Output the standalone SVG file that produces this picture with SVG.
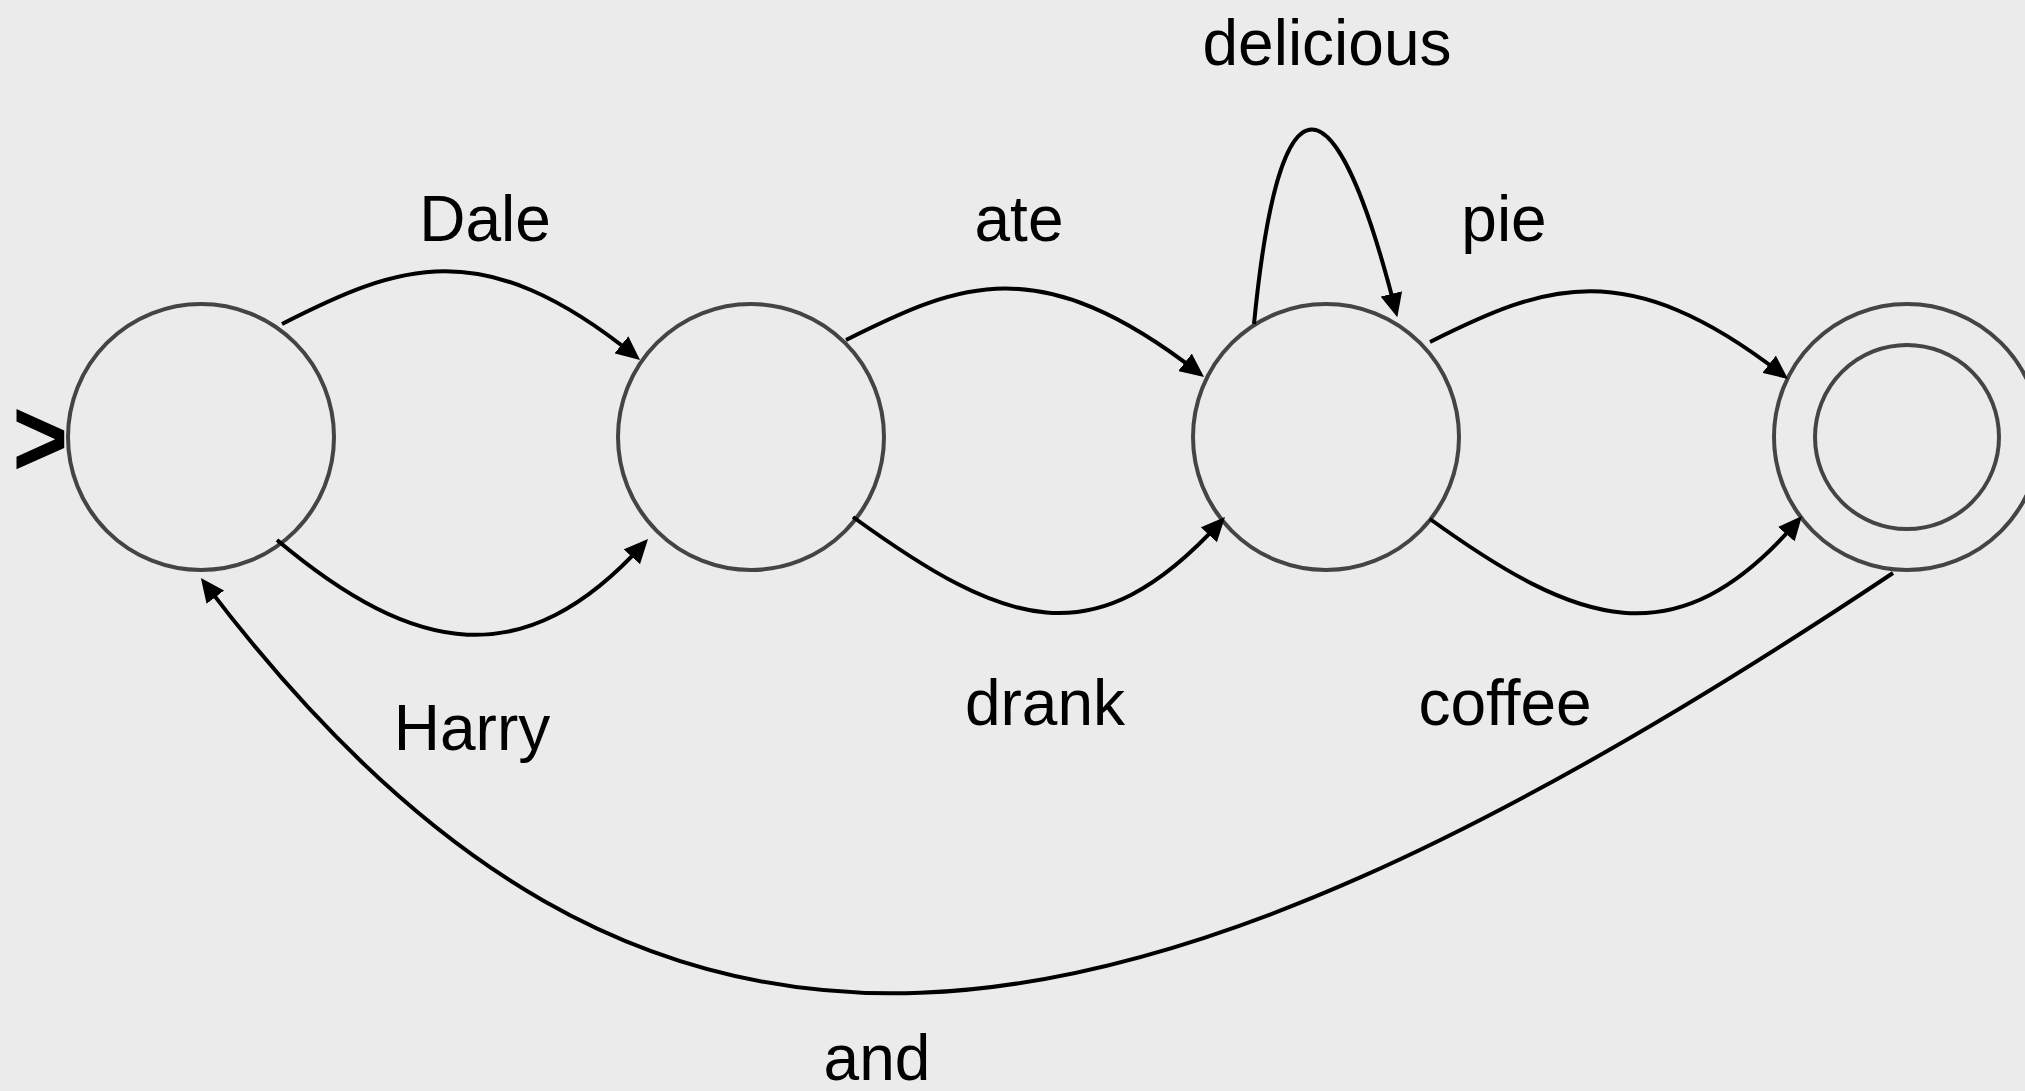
<svg xmlns="http://www.w3.org/2000/svg" width="2025" height="1091" viewBox="0 0 2025 1091">
<defs>
<style>
.state{fill:none;stroke:#444;stroke-width:4}
.edge{fill:none;stroke:#000;stroke-width:4;marker-end:url(#arr)}
.lbl{font-family:"Liberation Sans",Arial,sans-serif;font-size:64px;fill:#000;text-anchor:middle}
</style>
<marker id="arr" viewBox="0 0 24 22" refX="17" refY="11" markerWidth="24" markerHeight="22" markerUnits="userSpaceOnUse" orient="auto">
<path d="M0,0 L24,11 L0,22 z" fill="#000"/>
</marker>
</defs>
<rect width="2025" height="1091" fill="#ebebeb"/>
<g id="start-marker">
<text transform="translate(68,476) scale(0.85,1)" font-family="'Liberation Sans',Arial,sans-serif" font-size="112" font-weight="bold" text-anchor="end" fill="#000">&gt;</text>
</g>
<g id="q0"><circle class="state" cx="201" cy="437" r="133"/></g>
<g id="q1"><circle class="state" cx="751" cy="437" r="133"/></g>
<g id="q2"><circle class="state" cx="1326" cy="437" r="133"/></g>
<g id="q3"><circle class="state" cx="1907" cy="437" r="133"/><circle class="state" cx="1907" cy="437" r="92"/></g>
<g id="connectors">
<path id="e-dale" class="edge" d="M282,324 C398,265 482,232 634.6,355.6"/>
<path id="e-harry" class="edge" d="M277,540 C415,656 524.5,675 643.3,544.2"/>
<path id="e-ate" class="edge" d="M846,340 C960,283 1039,249 1198.5,372.7"/>
<path id="e-drank" class="edge" d="M853,517 C1005,627 1094,660 1220.3,522.2"/>
<path id="e-delicious" class="edge" d="M1254,324 C1280,58 1336,76 1395.6,310.4"/>
<path id="e-pie" class="edge" d="M1430,342 C1544,285 1626,253 1782.5,374.7"/>
<path id="e-coffee" class="edge" d="M1430,519 C1577,625 1676,662 1797.4,521.3"/>
<path id="e-and" class="edge" d="M1893,573 C1110,1096 645,1166 205.1,583.6"/>
</g>
<g id="labels">
<text class="lbl" x="485" y="241">Dale</text>
<text class="lbl" x="472" y="750">Harry</text>
<text class="lbl" x="1019" y="241">ate</text>
<text class="lbl" x="1045" y="725">drank</text>
<text class="lbl" x="1327" y="65">delicious</text>
<text class="lbl" x="1504" y="241">pie</text>
<text class="lbl" x="1505" y="725">coffee</text>
<text class="lbl" x="877" y="1080">and</text>
</g>
</svg>
